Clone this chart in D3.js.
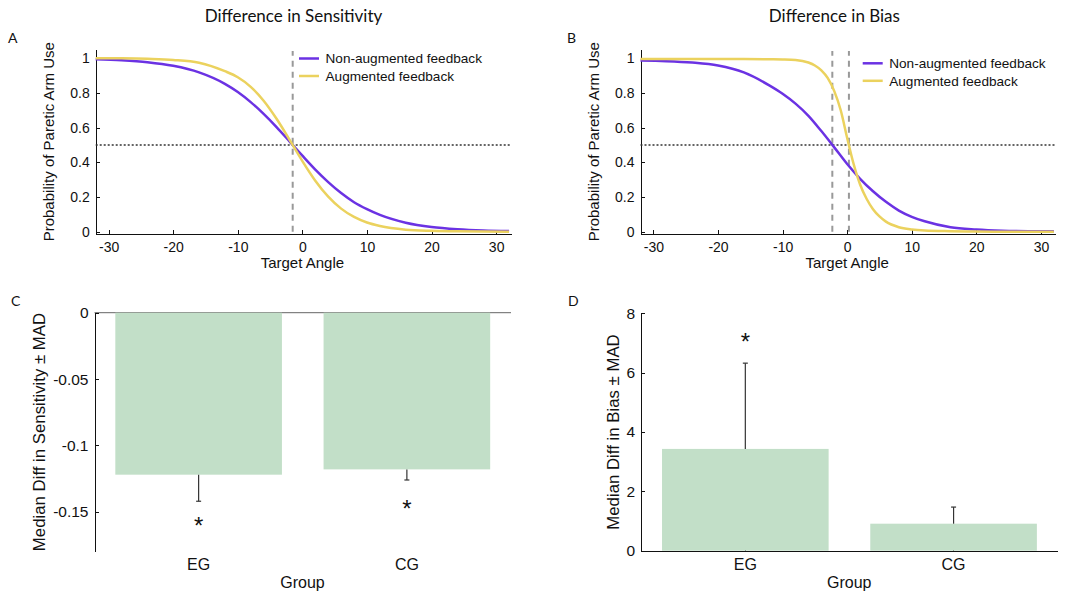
<!DOCTYPE html>
<html>
  <head>
    <meta charset="utf-8">
    <title>Sensitivity and bias</title>
    <style>
      body { margin: 0; background: white; }
      text { font-family: "Liberation Sans", Arial, sans-serif; fill: #111; }
      .title, .panel { font-family: Lato, "Open Sans", sans-serif; }
      .axis path, .axis line { stroke: #111; stroke-width: 1; shape-rendering: crispEdges; }
      .axis text { font-size: 14px; }
      .bars .axis text { font-size: 15.5px; }
    </style>
  </head>
  <body>
    <svg width="1068" height="596"></svg>
    <script src="https://cdn.jsdelivr.net/npm/d3@7"></script>
    <script>
      // psychometric curves
      const angles = [-32, -28, -24, -20, -16, -12, -10, -8, -6, -4, -2, 0, 2, 4, 6, 8, 10, 12, 16, 20, 24, 28, 32];
      const sensNonAug = [0.994, 0.988, 0.977, 0.956, 0.918, 0.852, 0.805, 0.747, 0.679, 0.603, 0.521, 0.438, 0.358, 0.286, 0.223, 0.170, 0.130, 0.097, 0.052, 0.027, 0.014, 0.007, 0.004];
      const sensAug = [1.000, 0.999, 0.996, 0.990, 0.974, 0.925, 0.890, 0.835, 0.755, 0.651, 0.531, 0.407, 0.294, 0.202, 0.133, 0.085, 0.053, 0.033, 0.012, 0.005, 0.002, 0.001, 0.000];
      const biasNonAug = [0.986, 0.983, 0.975, 0.958, 0.918, 0.842, 0.795, 0.738, 0.668, 0.580, 0.486, 0.390, 0.305, 0.233, 0.172, 0.122, 0.086, 0.060, 0.026, 0.013, 0.006, 0.003, 0.002];
      const biasAugAngles = [-32, -24, -16, -12, -10, -8, -6, -5, -4, -3, -2, -1, 0, 1, 2, 3, 4, 5, 6, 8, 10, 12, 16, 20, 24, 32];
      const biasAug = [0.995, 0.995, 0.995, 0.994, 0.993, 0.990, 0.975, 0.958, 0.930, 0.885, 0.810, 0.700, 0.540, 0.390, 0.272, 0.190, 0.130, 0.088, 0.058, 0.026, 0.013, 0.007, 0.003, 0.001, 0.000, 0.000];
      const sensMidpoints = [-1.5];
      const biasMidpoints = [-2.3, 0.27];
      const angleTicks = [-30, -20, -10, 0, 10, 20, 30];
      const probTicks = [0, 0.2, 0.4, 0.6, 0.8, 1];
      const seriesNames = ["Non-augmented feedback", "Augmented feedback"];

      // group medians
      const groups = ["EG", "CG"];
      const sensMedian = [-0.122, -0.118];
      const sensMad = [0.020, 0.008];
      const sensStar = [-0.156, -0.143];
      const sensTicks = [0, -0.05, -0.1, -0.15];
      const biasMedian = [3.43, 0.91];
      const biasMad = [2.89, 0.56];
      const biasStar = [7.25, null];
      const biasTicks = [0, 2, 4, 6, 8];

      const purple = "#6b32e3";
      const yellow = "#ebd25e";
      const green = "#c2dfc8";

      const svg = d3.select("svg");

      function curvePanel(opt) {
        const x = d3.scaleLinear().domain([-32, 32.3]).range([opt.left, opt.left + 415.3]);
        const y = d3.scaleLinear().domain([-0.012, 1.05]).range([233.8, 49.5]);
        const g = svg.append("g");

        g.append("g").attr("class", "axis")
          .attr("transform", "translate(0,233.8)")
          .call(d3.axisBottom(x).tickValues(angleTicks).tickFormat(String)
            .tickSizeInner(-4).tickSizeOuter(0).tickPadding(8));
        g.append("g").attr("class", "axis")
          .attr("transform", `translate(${opt.left},0)`)
          .call(d3.axisLeft(y).tickValues(probTicks).tickFormat(String)
            .tickSizeInner(-4).tickSizeOuter(0).tickPadding(6));

        g.append("line")
          .attr("x1", opt.left).attr("x2", x.range()[1])
          .attr("y1", y(0.5)).attr("y2", y(0.5))
          .attr("stroke", "#333").attr("stroke-width", 1.6).attr("stroke-dasharray", "2,2");

        g.selectAll(".mid").data(opt.mids).enter().append("line")
          .attr("x1", d => x(d)).attr("x2", d => x(d))
          .attr("y1", y(0)).attr("y2", 51)
          .attr("stroke", "#999").attr("stroke-width", 2).attr("stroke-dasharray", "6,5");

        const line = d3.line().x(d => x(d[0])).y(d => y(d[1])).curve(d3.curveMonotoneX);
        g.append("path").datum(d3.zip(opt.angA, opt.valA))
          .attr("d", line).attr("fill", "none").attr("stroke", purple).attr("stroke-width", 2.5);
        g.append("path").datum(d3.zip(opt.angB, opt.valB))
          .attr("d", line).attr("fill", "none").attr("stroke", yellow).attr("stroke-width", 2.5);

        const leg = g.append("g").attr("transform", `translate(${opt.legX},${opt.legY})`);
        seriesNames.forEach((name, i) => {
          leg.append("line").attr("x1", 0).attr("x2", 20).attr("y1", i * 17.5).attr("y2", i * 17.5)
            .attr("stroke", i ? yellow : purple).attr("stroke-width", 2.5);
          leg.append("text").attr("x", 26.5).attr("y", i * 17.5).attr("dy", "0.35em")
            .style("font-size", "13.6px").text(name);
        });

        g.append("text").attr("class", "title")
          .attr("x", opt.titleX).attr("y", 22).attr("text-anchor", "middle")
          .style("font-size", "17px").text(opt.title);
        g.append("text").attr("class", "panel")
          .attr("x", opt.letterX).attr("y", 43).style("font-size", "14px").text(opt.letter);
        g.append("text")
          .attr("transform", `translate(${opt.left - 47},141.7) rotate(-90)`)
          .attr("text-anchor", "middle").attr("dy", "0.35em")
          .style("font-size", "15px").text("Probability of Paretic Arm Use");
        g.append("text")
          .attr("x", x(0)).attr("y", 268).attr("text-anchor", "middle")
          .style("font-size", "15px").text("Target Angle");
      }

      curvePanel({
        left: 95.7, angA: angles, valA: sensNonAug, angB: angles, valB: sensAug,
        mids: sensMidpoints, legX: 299, legY: 58.5,
        title: "Difference in Sensitivity", titleX: 293.5, letter: "A", letterX: 8
      });
      curvePanel({
        left: 640.5, angA: angles, valA: biasNonAug, angB: biasAugAngles, valB: biasAug,
        mids: biasMidpoints, legX: 862.7, legY: 63.3,
        title: "Difference in Bias", titleX: 834.4, letter: "B", letterX: 567
      });

      function barPanel(opt) {
        const x = d3.scaleBand().domain(groups).range([opt.left, opt.left + 416.5])
          .paddingInner(0.2).paddingOuter(0.1);
        const y = d3.scaleLinear().domain(opt.domain).range(opt.range);
        const g = svg.append("g").attr("class", "bars");
        const rows = groups.map((k, i) => ({k, m: opt.median[i], e: opt.mad[i], s: opt.star[i]}));

        if (opt.top) {
          g.append("line").attr("x1", opt.left).attr("x2", opt.left + 416.5)
            .attr("y1", y(0)).attr("y2", y(0)).attr("stroke", "#666").attr("stroke-width", 1);
        } else {
          g.append("g").attr("class", "axis")
            .attr("transform", `translate(0,${y(0)})`)
            .call(d3.axisBottom(x).tickSizeInner(-4).tickSizeOuter(0).tickFormat(""));
        }

        g.selectAll(".bar").data(rows).enter().append("rect")
          .attr("x", d => x(d.k)).attr("width", x.bandwidth())
          .attr("y", d => y(Math.max(0, d.m))).attr("height", d => Math.abs(y(d.m) - y(0)))
          .attr("fill", green);

        const ends = rows.map(d => ({k: d.k, a: d.m, b: d.m + Math.sign(d.m) * d.e}));
        g.selectAll(".err").data(ends).enter().append("line")
          .attr("x1", d => x(d.k) + x.bandwidth() / 2).attr("x2", d => x(d.k) + x.bandwidth() / 2)
          .attr("y1", d => y(d.a)).attr("y2", d => y(d.b))
          .attr("stroke", "#333").attr("stroke-width", 1.2);
        g.selectAll(".cap").data(ends).enter().append("line")
          .attr("x1", d => x(d.k) + x.bandwidth() / 2 - 2.5).attr("x2", d => x(d.k) + x.bandwidth() / 2 + 2.5)
          .attr("y1", d => y(d.b)).attr("y2", d => y(d.b))
          .attr("stroke", "#333").attr("stroke-width", 1.2);

        g.append("g").attr("class", "axis")
          .attr("transform", `translate(${opt.left},0)`)
          .call(d3.axisLeft(y).tickValues(opt.ticks).tickFormat(String)
            .tickSizeInner(-4).tickSizeOuter(0).tickPadding(6));

        g.selectAll(".star").data(rows.filter(d => d.s != null)).enter().append("text")
          .attr("x", d => x(d.k) + x.bandwidth() / 2).attr("y", d => y(d.s) + 14)
          .attr("text-anchor", "middle").style("font-size", "24px").text("*");

        g.selectAll(".glab").data(groups).enter().append("text")
          .attr("x", d => x(d) + x.bandwidth() / 2).attr("y", 570)
          .attr("text-anchor", "middle").style("font-size", "16px").text(d => d);
        g.append("text")
          .attr("x", opt.left + 208).attr("y", 588).attr("text-anchor", "middle")
          .style("font-size", "16px").text("Group");
        g.append("text")
          .attr("transform", `translate(${opt.titleX},432) rotate(-90)`)
          .attr("text-anchor", "middle").attr("dy", "0.35em")
          .style("font-size", "16.8px").text(opt.label);
        g.append("text").attr("class", "panel")
          .attr("x", opt.letterX).attr("y", 306).style("font-size", "14px").text(opt.letter);
      }

      barPanel({
        left: 94.5, domain: [-0.18, 0], range: [551.7, 312.7], top: true,
        median: sensMedian, mad: sensMad, star: sensStar, ticks: sensTicks,
        label: "Median Diff in Sensitivity \u00b1 MAD", titleX: 39.3, letter: "C", letterX: 11
      });
      barPanel({
        left: 641.2, domain: [0, 8], range: [550.7, 313.3], top: false,
        median: biasMedian, mad: biasMad, star: biasStar, ticks: biasTicks,
        label: "Median Diff in Bias \u00b1 MAD", titleX: 613.2, letter: "D", letterX: 568
      });
    </script>
  </body>
</html>
